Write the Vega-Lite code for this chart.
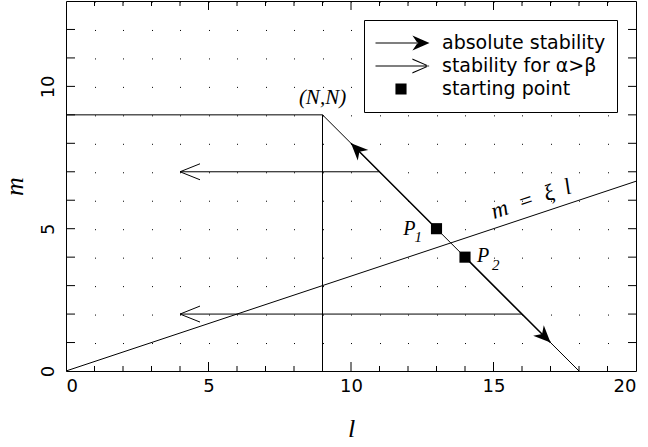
{
  "$schema": "https://vega.github.io/schema/vega-lite/v6.json",
  "width": 570,
  "height": 370,
  "autosize": {"type": "none"},
  "padding": {"left": 66, "top": 1, "right": 12, "bottom": 76},
  "background": "white",
  "config": {
    "view": {"stroke": "black", "strokeWidth": 1},
    "axis": {
      "domain": false,
      "ticks": false,
      "tickSize": 0,
      "labelFont": "DejaVu Sans",
      "labelFontSize": 18,
      "labelColor": "black",
      "gridColor": "black",
      "gridOpacity": 1,
      "gridWidth": 1,
      "titleFont": "Liberation Serif",
      "titleFontStyle": "italic",
      "titleFontWeight": "normal",
      "titleFontSize": 26,
      "titleColor": "black"
    },
    "legend": {
      "labelFont": "DejaVu Sans",
      "labelFontSize": 19,
      "labelColor": "black",
      "labelLimit": 400,
      "symbolFillColor": "black",
      "symbolStrokeWidth": 0,
      "symbolOpacity": 1
    }
  },
  "resolve": {"axis": {"x": "independent", "y": "independent"}},
  "layer": [
    {
      "data": {"values": [
        {"x": 0, "y": 9, "x2": 9, "y2": 9},
        {"x": 9, "y": 9, "x2": 9, "y2": 0},
        {"x": 9, "y": 9, "x2": 18, "y2": 0},
        {"x": 0, "y": 0, "x2": 20, "y2": 6.667},
        {"x": 11, "y": 7, "x2": 4, "y2": 7},
        {"x": 16, "y": 2, "x2": 4, "y2": 2}
      ]},
      "mark": {"type": "rule", "color": "black", "strokeWidth": 1},
      "encoding": {
        "x": {"field": "x", "type": "quantitative", "scale": {"domain": [0, 20], "nice": false, "zero": false},
          "axis": {
            "orient": "bottom",
            "values": [0, 5, 10, 15, 20],
            "labelPadding": 6,
            "grid": false,
            "title": "l",
            "titlePadding": 20
          }},
        "y": {"field": "y", "type": "quantitative", "scale": {"domain": [0, 13], "nice": false, "zero": false},
          "axis": {
            "orient": "left",
            "values": [0, 5, 10],
            "labelAngle": -90,
            "labelAlign": "center",
            "labelBaseline": "alphabetic",
            "labelPadding": 13,
            "grid": false,
            "title": "m",
            "titlePadding": 12
          }},
        "x2": {"field": "x2"},
        "y2": {"field": "y2"}
      }
    },
    {
      "data": {"values": [
        {"x": 13, "y": 5, "x2": 10, "y2": 8},
        {"x": 14, "y": 4, "x2": 17, "y2": 1}
      ]},
      "mark": {"type": "rule", "color": "black", "strokeWidth": 1.5},
      "encoding": {
        "x": {"field": "x", "type": "quantitative", "scale": {"domain": [0, 20], "nice": false, "zero": false},
          "axis": {
            "orient": "bottom",
            "values": [1,2,3,4,5,6,7,8,9,10,11,12,13,14,15,16,17,18,19],
            "labels": false,
            "grid": true,
            "gridDash": [1, 27.4615],
            "title": null
          }},
        "y": {"field": "y", "type": "quantitative", "scale": {"domain": [0, 13], "nice": false, "zero": false}, "axis": null},
        "x2": {"field": "x2"},
        "y2": {"field": "y2"}
      }
    },
    {
      "data": {"values": [{"v": 5}, {"v": 10}, {"v": 15}]},
      "layer": [
        {
          "mark": {"type": "rule", "color": "black", "strokeWidth": 1},
          "encoding": {
            "x": {"field": "v", "type": "quantitative", "scale": {"domain": [0, 20], "nice": false, "zero": false}, "axis": null},
            "y": {"datum": 0, "type": "quantitative", "scale": {"domain": [0, 13], "nice": false, "zero": false}, "axis": null},
            "y2": {"datum": 0.316}
          }
        },
        {
          "mark": {"type": "rule", "color": "black", "strokeWidth": 1},
          "encoding": {
            "x": {"field": "v", "type": "quantitative", "scale": {"domain": [0, 20], "nice": false, "zero": false}, "axis": null},
            "y": {"datum": 13, "type": "quantitative", "scale": {"domain": [0, 13], "nice": false, "zero": false}, "axis": null},
            "y2": {"datum": 12.684}
          }
        }
      ]
    },
    {
      "data": {"values": [
        {"v": 1}, {"v": 2}, {"v": 3}, {"v": 4}, {"v": 6}, {"v": 7}, {"v": 8}, {"v": 9},
        {"v": 11}, {"v": 12}, {"v": 13}, {"v": 14}, {"v": 16}, {"v": 17}, {"v": 18}, {"v": 19}
      ]},
      "layer": [
        {
          "mark": {"type": "rule", "color": "black", "strokeWidth": 1},
          "encoding": {
            "x": {"field": "v", "type": "quantitative", "scale": {"domain": [0, 20], "nice": false, "zero": false}, "axis": null},
            "y": {"datum": 0, "type": "quantitative", "scale": {"domain": [0, 13], "nice": false, "zero": false}, "axis": null},
            "y2": {"datum": 0.176}
          }
        },
        {
          "mark": {"type": "rule", "color": "black", "strokeWidth": 1},
          "encoding": {
            "x": {"field": "v", "type": "quantitative", "scale": {"domain": [0, 20], "nice": false, "zero": false}, "axis": null},
            "y": {"datum": 13, "type": "quantitative", "scale": {"domain": [0, 13], "nice": false, "zero": false}, "axis": null},
            "y2": {"datum": 12.824}
          }
        }
      ]
    },
    {
      "data": {"values": [
        {"v": 1}, {"v": 2}, {"v": 3}, {"v": 4}, {"v": 5}, {"v": 6},
        {"v": 7}, {"v": 8}, {"v": 9}, {"v": 10}, {"v": 11}, {"v": 12}
      ]},
      "layer": [
        {
          "mark": {"type": "rule", "color": "black", "strokeWidth": 1},
          "encoding": {
            "y": {"field": "v", "type": "quantitative", "scale": {"domain": [0, 13], "nice": false, "zero": false}, "axis": null},
            "x": {"datum": 0, "type": "quantitative", "scale": {"domain": [0, 20], "nice": false, "zero": false}, "axis": null},
            "x2": {"datum": 0.316}
          }
        },
        {
          "mark": {"type": "rule", "color": "black", "strokeWidth": 1},
          "encoding": {
            "y": {"field": "v", "type": "quantitative", "scale": {"domain": [0, 13], "nice": false, "zero": false}, "axis": null},
            "x": {"datum": 20, "type": "quantitative", "scale": {"domain": [0, 20], "nice": false, "zero": false}, "axis": null},
            "x2": {"datum": 19.72}
          }
        }
      ]
    },
    {
      "data": {"values": [{"x": 10, "y": 8}]},
      "mark": {"type": "point", "shape": "M0,0L-1,-0.44L-0.7,0L-1,0.44Z", "size": 1156, "angle": 225, "filled": true, "color": "black", "opacity": 1, "strokeWidth": 0},
      "encoding": {
        "x": {"field": "x", "type": "quantitative", "scale": {"domain": [0, 20], "nice": false, "zero": false}, "axis": null},
        "y": {"field": "y", "type": "quantitative", "scale": {"domain": [0, 13], "nice": false, "zero": false}, "axis": null}
      }
    },
    {
      "data": {"values": [{"x": 17, "y": 1}]},
      "mark": {"type": "point", "shape": "M0,0L-1,-0.44L-0.7,0L-1,0.44Z", "size": 1156, "angle": 45, "filled": true, "color": "black", "opacity": 1, "strokeWidth": 0},
      "encoding": {
        "x": {"field": "x", "type": "quantitative", "scale": {"domain": [0, 20], "nice": false, "zero": false}, "axis": null},
        "y": {"field": "y", "type": "quantitative", "scale": {"domain": [0, 13], "nice": false, "zero": false}, "axis": null}
      }
    },
    {
      "data": {"values": [{"x": 4, "y": 7}, {"x": 4, "y": 2}]},
      "mark": {"type": "point", "shape": "M-1,-0.4L0,0L-1,0.4", "size": 1600, "angle": 180, "filled": false, "color": "black", "opacity": 1, "strokeWidth": 1},
      "encoding": {
        "x": {"field": "x", "type": "quantitative", "scale": {"domain": [0, 20], "nice": false, "zero": false}, "axis": null},
        "y": {"field": "y", "type": "quantitative", "scale": {"domain": [0, 13], "nice": false, "zero": false}, "axis": null}
      }
    },
    {
      "data": {"values": [
        {"x": 13, "y": 5, "kind": "starting point"},
        {"x": 14, "y": 4, "kind": "starting point"}
      ]},
      "mark": {"type": "point", "size": 3249, "filled": true, "color": "black", "strokeWidth": 0, "opacity": 1},
      "encoding": {
        "x": {"field": "x", "type": "quantitative", "scale": {"domain": [0, 20], "nice": false, "zero": false}, "axis": null},
        "y": {"field": "y", "type": "quantitative", "scale": {"domain": [0, 13], "nice": false, "zero": false}, "axis": null},
        "shape": {
          "field": "kind",
          "type": "nominal",
          "scale": {
            "domain": ["absolute stability", "stability for α>β", "starting point"],
            "range": [
              "M-1,-0.018L0.6,-0.018L0.6,0.018L-1,0.018Z M1,0L0.4,-0.26L0.58,0L0.4,0.26Z",
              "M-1,-0.018L0.95,-0.018L0.95,0.018L-1,0.018Z M1,0L0.4,-0.26L0.4,-0.215L0.92,0L0.4,0.215L0.4,0.26Z",
              "M-0.195,-0.195H0.195V0.195H-0.195Z"
            ]
          },
          "legend": {
            "title": null,
            "orient": "none",
            "legendX": 298,
            "legendY": 19,
            "strokeColor": "black",
            "fillColor": "white",
            "padding": 11.5,
            "clipHeight": 23,
            "rowPadding": 0,
            "symbolOffset": -3,
            "labelOffset": 12.5,
            "symbolSize": 3249,
            "encode": {
              "symbols": {
                "update": {
                  "fill": {"value": "black"},
                  "strokeWidth": {"value": 0},
                  "opacity": {"value": 1}
                }
              }
            }
          }
        }
      }
    },
    {
      "data": {"values": [{"x": 9, "y": 9, "t": "(N,N)"}]},
      "mark": {"type": "text", "font": "Liberation Serif", "fontStyle": "italic", "fontSize": 21, "align": "center", "baseline": "alphabetic", "dy": -11, "color": "black"},
      "encoding": {
        "x": {"field": "x", "type": "quantitative", "scale": {"domain": [0, 20], "nice": false, "zero": false}, "axis": null},
        "y": {"field": "y", "type": "quantitative", "scale": {"domain": [0, 13], "nice": false, "zero": false}, "axis": null},
        "text": {"field": "t"}
      }
    },
    {
      "data": {"values": [{"x": 13, "y": 5, "t": "P"}]},
      "mark": {"type": "text", "font": "Liberation Serif", "fontStyle": "italic", "fontSize": 20, "align": "right", "baseline": "alphabetic", "dx": -21, "dy": 6, "color": "black"},
      "encoding": {
        "x": {"field": "x", "type": "quantitative", "scale": {"domain": [0, 20], "nice": false, "zero": false}, "axis": null},
        "y": {"field": "y", "type": "quantitative", "scale": {"domain": [0, 13], "nice": false, "zero": false}, "axis": null},
        "text": {"field": "t"}
      }
    },
    {
      "data": {"values": [{"x": 13, "y": 5, "t": "1"}]},
      "mark": {"type": "text", "font": "Liberation Serif", "fontStyle": "italic", "fontSize": 15, "align": "left", "baseline": "alphabetic", "dx": -22, "dy": 13, "color": "black"},
      "encoding": {
        "x": {"field": "x", "type": "quantitative", "scale": {"domain": [0, 20], "nice": false, "zero": false}, "axis": null},
        "y": {"field": "y", "type": "quantitative", "scale": {"domain": [0, 13], "nice": false, "zero": false}, "axis": null},
        "text": {"field": "t"}
      }
    },
    {
      "data": {"values": [{"x": 14, "y": 4, "t": "P"}]},
      "mark": {"type": "text", "font": "Liberation Serif", "fontStyle": "italic", "fontSize": 20, "align": "left", "baseline": "alphabetic", "dx": 12, "dy": 5, "color": "black"},
      "encoding": {
        "x": {"field": "x", "type": "quantitative", "scale": {"domain": [0, 20], "nice": false, "zero": false}, "axis": null},
        "y": {"field": "y", "type": "quantitative", "scale": {"domain": [0, 13], "nice": false, "zero": false}, "axis": null},
        "text": {"field": "t"}
      }
    },
    {
      "data": {"values": [{"x": 14, "y": 4, "t": "2"}]},
      "mark": {"type": "text", "font": "Liberation Serif", "fontStyle": "italic", "fontSize": 15, "align": "left", "baseline": "alphabetic", "dx": 27, "dy": 13, "color": "black"},
      "encoding": {
        "x": {"field": "x", "type": "quantitative", "scale": {"domain": [0, 20], "nice": false, "zero": false}, "axis": null},
        "y": {"field": "y", "type": "quantitative", "scale": {"domain": [0, 13], "nice": false, "zero": false}, "axis": null},
        "text": {"field": "t"}
      }
    },
    {
      "data": {"values": [{"x": 16.5, "y": 5.5, "t": "m\u2002=\u2002ξ\u2002l"}]},
      "mark": {"type": "text", "font": "Liberation Serif", "fontStyle": "italic", "fontSize": 23, "align": "center", "baseline": "alphabetic", "angle": -18.4, "dy": -9, "color": "black"},
      "encoding": {
        "x": {"field": "x", "type": "quantitative", "scale": {"domain": [0, 20], "nice": false, "zero": false}, "axis": null},
        "y": {"field": "y", "type": "quantitative", "scale": {"domain": [0, 13], "nice": false, "zero": false}, "axis": null},
        "text": {"field": "t"}
      }
    }
  ]
}
